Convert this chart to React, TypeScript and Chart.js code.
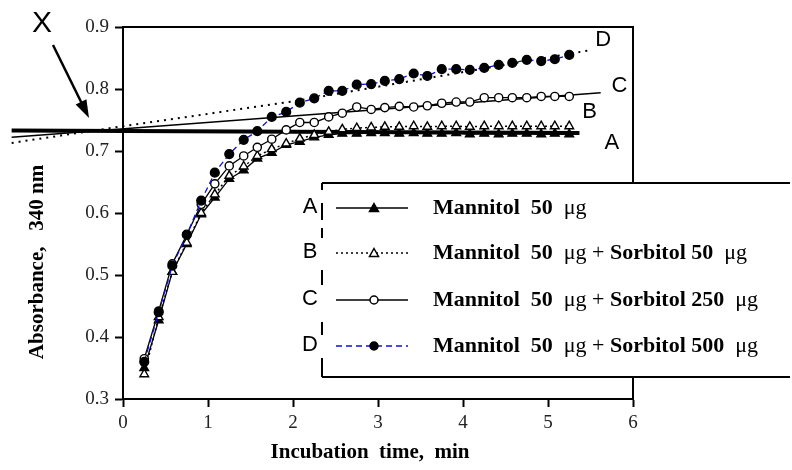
import React, { useEffect, useRef } from "react";
import { Chart, registerables } from "chart.js";

Chart.register(...registerables);

// Incubation time (min)
const times = [
  0.25, 0.42, 0.58, 0.75, 0.92, 1.08, 1.25, 1.42, 1.58, 1.75, 1.92, 2.08, 2.25, 2.42, 2.58, 2.75,
  2.92, 3.08, 3.25, 3.42, 3.58, 3.75, 3.92, 4.08, 4.25, 4.42, 4.58, 4.75, 4.92, 5.08, 5.25,
];

// A: Mannitol 50 µg
const seriesA = [
  0.35, 0.427, 0.505, 0.55, 0.598, 0.625, 0.655, 0.669, 0.688, 0.697, 0.71, 0.715, 0.722, 0.726, 0.728, 0.728,
  0.729, 0.729, 0.728, 0.729, 0.728, 0.728, 0.729, 0.727, 0.728, 0.727, 0.728, 0.728, 0.727, 0.728, 0.727,
];
// B: Mannitol 50 µg + Sorbitol 50 µg
const seriesB = [
  0.34, 0.432, 0.505, 0.552, 0.6, 0.63, 0.66, 0.675, 0.692, 0.703, 0.712, 0.72, 0.726, 0.731, 0.735, 0.737,
  0.738, 0.739, 0.739, 0.74, 0.739, 0.74, 0.74, 0.739, 0.74, 0.74, 0.74, 0.74, 0.74, 0.74, 0.74,
];
// C: Mannitol 50 µg + Sorbitol 250 µg
const seriesC = [
  0.365, 0.442, 0.518, 0.565, 0.614, 0.647, 0.676, 0.692, 0.706, 0.719, 0.734, 0.746, 0.746, 0.755, 0.761, 0.771,
  0.767, 0.77, 0.772, 0.771, 0.773, 0.777, 0.779, 0.779, 0.786, 0.786, 0.786, 0.786, 0.788, 0.788, 0.788,
];
// D: Mannitol 50 µg + Sorbitol 500 µg
const seriesD = [
  0.36, 0.44, 0.515, 0.565, 0.62, 0.665, 0.695, 0.718, 0.732, 0.755, 0.763, 0.778, 0.785, 0.797, 0.797, 0.807,
  0.808, 0.813, 0.816, 0.825, 0.821, 0.832, 0.832, 0.831, 0.834, 0.839, 0.842, 0.847, 0.845, 0.848, 0.855,
];

// Extrapolated lines (back to the common point X)
const extAx = [-1.31, 5.37];
const extAy = [0.733, 0.729];
const extCx = [-1.31, 5.62];
const extCy = [0.722, 0.794];
const extDx = [-1.31, 0, 2.0, 5.47];
const extDy = [0.713, 0.74, 0.78, 0.862];

const xTicks = [0, 1, 2, 3, 4, 5, 6];
const yTicks = [0.3, 0.4, 0.5, 0.6, 0.7, 0.8, 0.9];

const seriesLetters = ["A", "B", "C", "D"];
const legendTexts: [string, boolean][][] = [
  [["Mannitol  50  ", true], ["\u03bcg", false]],
  [["Mannitol  50  ", true], ["\u03bcg + ", false], ["Sorbitol 50  ", true], ["\u03bcg", false]],
  [["Mannitol  50  ", true], ["\u03bcg + ", false], ["Sorbitol 250  ", true], ["\u03bcg", false]],
  [["Mannitol  50  ", true], ["\u03bcg + ", false], ["Sorbitol 500  ", true], ["\u03bcg", false]],
];
const xTitle = "Incubation  time,  min";
const yTitle = "Absorbance,   340 nm";
const pointLabel = "X";

const pts = (xs: number[], ys: number[]) => xs.map((x, i) => ({ x, y: ys[i] }));

const SERIF = "'Liberation Serif', 'Times New Roman', serif";
const SANS = "'Liberation Sans', Arial, sans-serif";

const styles = [
  { color: "#000", dash: [] as number[], width: 1.3, point: "triangle", fill: "#000", radius: 5 },
  { color: "#000", dash: [2, 3], width: 1.5, point: "triangle", fill: "#fff", radius: 5 },
  { color: "#000", dash: [] as number[], width: 1.3, point: "circle", fill: "#fff", radius: 4.1 },
  { color: "#1010d0", dash: [6, 4], width: 1.3, point: "circle", fill: "#000", radius: 4.4 },
];

const decor = {
  id: "decor",
  afterDraw(chart: any) {
    const { ctx, chartArea: ca, scales } = chart;
    const xs = scales.x;
    const ys = scales.y;
    ctx.save();
    // frame top and right
    ctx.strokeStyle = "#000";
    ctx.lineWidth = 2;
    ctx.beginPath();
    ctx.moveTo(ca.left, ca.top);
    ctx.lineTo(ca.right, ca.top);
    ctx.lineTo(ca.right, ca.bottom);
    ctx.stroke();

    // right-side curve letters
    ctx.fillStyle = "#000";
    ctx.font = `22px ${SANS}`;
    ctx.textAlign = "center";
    ctx.textBaseline = "middle";
    const lbl: [string, number, number][] = [
      ["D", 5.65, 0.879],
      ["C", 5.84, 0.805],
      ["B", 5.49, 0.763],
      ["A", 5.75, 0.713],
    ];
    lbl.forEach(([t, x, y]) => ctx.fillText(t, xs.getPixelForValue(x), ys.getPixelForValue(y)));

    // X label and arrow
    ctx.font = `30px ${SANS}`;
    ctx.fillText(pointLabel, 42, 24);
    const x0 = 53, y0 = 45, x1 = 89, y1 = 118;
    const ang = Math.atan2(y1 - y0, x1 - x0);
    ctx.lineWidth = 2.5;
    ctx.beginPath();
    ctx.moveTo(x0, y0);
    ctx.lineTo(x1 - 12 * Math.cos(ang), y1 - 12 * Math.sin(ang));
    ctx.stroke();
    ctx.beginPath();
    ctx.moveTo(x1, y1);
    ctx.lineTo(x1 - 18 * Math.cos(ang) + 6 * Math.sin(ang), y1 - 18 * Math.sin(ang) - 6 * Math.cos(ang));
    ctx.lineTo(x1 - 18 * Math.cos(ang) - 6 * Math.sin(ang), y1 - 18 * Math.sin(ang) + 6 * Math.cos(ang));
    ctx.closePath();
    ctx.fill();

    // legend box
    const bl = 322, bt = 183, bb = 377, br = 790;
    ctx.fillStyle = "#fff";
    ctx.fillRect(bl, bt, br - bl, bb - bt);
    ctx.strokeStyle = "#000";
    ctx.lineWidth = 2;
    ctx.beginPath();
    ctx.moveTo(br, bt);
    ctx.lineTo(bl, bt);
    ctx.moveTo(bl, bb);
    ctx.lineTo(br, bb);
    const segs = [
      [183, 190],
      [203, 220],
      [228, 238],
      [270, 285],
      [322, 335],
      [358, 377],
    ];
    segs.forEach(([a, b]) => {
      ctx.moveTo(bl, a);
      ctx.lineTo(bl, b);
    });
    ctx.stroke();

    const rowY = [208, 253, 300, 346];
    rowY.forEach((ry, i) => {
      const s = styles[i];
      ctx.fillStyle = "#000";
      ctx.font = `22px ${SANS}`;
      ctx.textAlign = "center";
      ctx.fillText(seriesLetters[i], 310, ry - 1);
      // sample line
      ctx.strokeStyle = s.color;
      ctx.lineWidth = i === 1 ? 1.5 : 1.6;
      ctx.setLineDash(s.dash);
      ctx.beginPath();
      ctx.moveTo(336, ry);
      ctx.lineTo(408, ry);
      ctx.stroke();
      ctx.setLineDash([]);
      // marker
      ctx.strokeStyle = "#000";
      ctx.fillStyle = s.fill;
      ctx.lineWidth = 1.5;
      ctx.beginPath();
      if (s.point === "circle") {
        ctx.arc(374, ry, 4, 0, Math.PI * 2);
      } else {
        ctx.moveTo(374, ry - 4.5);
        ctx.lineTo(378.5, ry + 3.5);
        ctx.lineTo(369.5, ry + 3.5);
        ctx.closePath();
      }
      ctx.fill();
      ctx.stroke();
      // text
      ctx.textAlign = "left";
      ctx.fillStyle = "#000";
      let tx = 433;
      legendTexts[i].forEach(([t, bold]) => {
        ctx.font = `${bold ? "bold " : ""}22px ${SERIF}`;
        ctx.fillText(t, tx, ry);
        tx += ctx.measureText(t).width;
      });
    });

    // axis titles
    ctx.fillStyle = "#000";
    ctx.font = `bold 21px ${SERIF}`;
    ctx.textAlign = "center";
    ctx.textBaseline = "middle";
    ctx.fillText(xTitle, 370, 453);
    ctx.translate(38, 262);
    ctx.rotate(-Math.PI / 2);
    ctx.fillText(yTitle, 0, 0);
    ctx.restore();
  },
};

export default function App() {
  const ref = useRef<HTMLCanvasElement>(null);
  useEffect(() => {
    document.body.style.margin = "0";
    const mk = (data: any[], i: number, label: string) => {
      const s = styles[i];
      return {
        label,
        data,
        showLine: true,
        borderColor: s.color,
        borderWidth: s.width,
        borderDash: s.dash,
        pointStyle: s.point,
        pointRadius: s.radius,
        pointBackgroundColor: s.fill,
        pointBorderColor: "#000",
        pointBorderWidth: 1.4,
        tension: 0,
        fill: false,
      };
    };
    const chart = new Chart(ref.current as HTMLCanvasElement, {
      type: "scatter",
      data: {
        datasets: [
          mk(pts(times, seriesD), 3, "D"),
          mk(pts(times, seriesC), 2, "C"),
          mk(pts(times, seriesB), 1, "B"),
          mk(pts(times, seriesA), 0, "A"),
          {
            label: "A fit",
            data: pts(extAx, extAy),
            showLine: true,
            borderColor: "#000",
            borderWidth: 4,
            pointRadius: 0,
            clip: false,
          } as any,
          {
            label: "C fit",
            data: pts(extCx, extCy),
            showLine: true,
            borderColor: "#000",
            borderWidth: 1.5,
            pointRadius: 0,
            clip: false,
          } as any,
          {
            label: "D fit",
            data: pts(extDx, extDy),
            showLine: true,
            borderColor: "#000",
            borderWidth: 2,
            borderDash: [2, 5],
            pointRadius: 0,
            clip: false,
          } as any,
        ],
      },
      options: {
        animation: false,
        responsive: true,
        maintainAspectRatio: false,
        layout: { padding: { left: 0, top: 27, right: 159, bottom: 0 } },
        plugins: { legend: { display: false }, tooltip: { enabled: false } },
        scales: {
          x: {
            type: "linear",
            min: 0,
            max: 6,
            afterFit: (s: any) => {
              s.height = 71;
            },
            afterBuildTicks: (s: any) => {
              s.ticks = xTicks.map((v) => ({ value: v }));
            },
            ticks: {
              color: "#222",
              font: { family: SERIF, size: 19 },
              padding: 5,
              maxRotation: 0,
              callback: (v: any) => String(v),
            },
            grid: { drawOnChartArea: false, tickLength: 8, tickWidth: 2, tickColor: "#000" },
            border: { color: "#000", width: 2 },
          },
          y: {
            type: "linear",
            min: 0.3,
            max: 0.9,
            afterFit: (s: any) => {
              s.width = 123;
            },
            afterBuildTicks: (s: any) => {
              s.ticks = yTicks.map((v) => ({ value: v }));
            },
            ticks: {
              color: "#222",
              font: { family: SERIF, size: 19 },
              padding: 6,
              callback: (v: any) => Number(v).toFixed(1),
            },
            grid: { drawOnChartArea: false, tickLength: 8, tickWidth: 2, tickColor: "#000" },
            border: { color: "#000", width: 2 },
          },
        },
      },
      plugins: [decor],
    });
    return () => chart.destroy();
  }, []);
  return (
    <div style={{ width: 792, height: 470, position: "relative" }}>
      <canvas ref={ref} />
    </div>
  );
}
